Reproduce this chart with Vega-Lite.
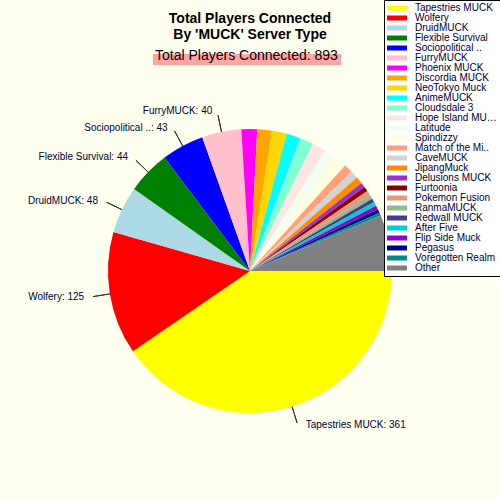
{
  "$schema": "https://vega.github.io/schema/vega-lite/v6.json",
  "description": "Total players connected by MUCK server type",
  "width": 500,
  "height": 458,
  "autosize": "none",
  "padding": {"top": 42, "left": 0, "right": 0, "bottom": 0},
  "background": "#FFFFF0",
  "config": {"view": {"stroke": null}},

  "title": {
    "text": ["Total Players Connected", "By 'MUCK' Server Type"],
    "font": "Liberation Sans",
    "fontSize": 14,
    "fontWeight": "bold",
    "lineHeight": 16,
    "color": "black",
    "anchor": "middle",
    "frame": "group",
    "offset": -42
  },

  "data": {
    "values": [
      {"idx": 1, "name": "Tapestries MUCK", "value": 361},
      {"idx": 2, "name": "Wolfery", "value": 125},
      {"idx": 3, "name": "DruidMUCK", "value": 48},
      {"idx": 4, "name": "Flexible Survival", "value": 44},
      {"idx": 5, "name": "Sociopolitical ..", "value": 43},
      {"idx": 6, "name": "FurryMUCK", "value": 40},
      {"idx": 7, "name": "Phoenix MUCK", "value": 16},
      {"idx": 8, "name": "Discordia MUCK", "value": 15},
      {"idx": 9, "name": "NeoTokyo Muck", "value": 15},
      {"idx": 10, "name": "AnimeMUCK", "value": 14},
      {"idx": 11, "name": "Cloudsdale 3", "value": 14},
      {"idx": 12, "name": "Hope Island MUCK", "value": 14},
      {"idx": 13, "name": "Latitude", "value": 13},
      {"idx": 14, "name": "Spindizzy", "value": 12},
      {"idx": 15, "name": "Match of the Mi..", "value": 9},
      {"idx": 16, "name": "CaveMUCK", "value": 8},
      {"idx": 17, "name": "JipangMuck", "value": 7},
      {"idx": 18, "name": "Delusions MUCK", "value": 5},
      {"idx": 19, "name": "Furtoonia", "value": 5},
      {"idx": 20, "name": "Pokemon Fusion", "value": 5},
      {"idx": 21, "name": "RanmaMUCK", "value": 4},
      {"idx": 22, "name": "Redwall MUCK", "value": 4},
      {"idx": 23, "name": "After Five", "value": 4},
      {"idx": 24, "name": "Flip Side Muck", "value": 4},
      {"idx": 25, "name": "Pegasus", "value": 4},
      {"idx": 26, "name": "Voregotten Realm", "value": 3},
      {"idx": 27, "name": "Other", "value": 57}
    ]
  },

  "transform": [
    {"stack": "value", "groupby": [], "sort": [{"field": "idx", "order": "ascending"}], "as": ["v0", "v1"]},
    {"calculate": "(datum.v0 + datum.v1) / 2", "as": "mid"},
    {"calculate": "datum.name + ': ' + datum.value", "as": "lbl"}
  ],

  "layer": [
    {
      "mark": {"type": "arc", "radius": 142},
      "encoding": {
        "theta": {"field": "v0", "type": "quantitative", "scale": {"domain": [0, 893], "range": [1.5708, 7.854], "nice": false, "zero": true}},
        "theta2": {"field": "v1"},
        "color": {
          "field": "name",
          "type": "nominal",
          "scale": {
            "domain": ["Tapestries MUCK", "Wolfery", "DruidMUCK", "Flexible Survival", "Sociopolitical ..", "FurryMUCK", "Phoenix MUCK", "Discordia MUCK", "NeoTokyo Muck", "AnimeMUCK", "Cloudsdale 3", "Hope Island MUCK", "Latitude", "Spindizzy", "Match of the Mi..", "CaveMUCK", "JipangMuck", "Delusions MUCK", "Furtoonia", "Pokemon Fusion", "RanmaMUCK", "Redwall MUCK", "After Five", "Flip Side Muck", "Pegasus", "Voregotten Realm", "Other"],
            "range": ["#FFFF00", "#FF0000", "#ADD8E6", "#008000", "#0000FF", "#FFC0CB", "#FF00FF", "#FFA500", "#FFD700", "#00FFFF", "#7FFFD4", "#FFE4E1", "#F0FFF0", "#FFFFE0", "#FFA07A", "#D3D3D3", "#FF8C00", "#9932CC", "#8B0000", "#E9967A", "#8FBC8F", "#483D8B", "#00CED1", "#9400D3", "#000080", "#008B8B", "#808080"]
          },
          "legend": {
            "title": null,
            "orient": "none",
            "legendX": 384,
            "legendY": -42,
            "fillColor": "white",
            "strokeColor": "black",
            "padding": 3,
            "rowPadding": 0,
            "symbolType": "M-1,-0.5H3V0.5H-1Z",
            "symbolSize": 100,
            "symbolStrokeWidth": 0,
            "labelFont": "Liberation Sans",
            "labelFontSize": 10,
            "labelColor": "#000033",
            "labelOffset": 18,
            "labelLimit": 82
          }
        }
      }
    },
    {
      "transform": [{"filter": "datum.idx <= 6"}],
      "mark": {"type": "arc", "radius": 142, "radius2": 159, "stroke": "#333333", "strokeWidth": 1, "fill": null},
      "encoding": {
        "theta": {"field": "mid", "type": "quantitative"},
        "theta2": {"field": "mid"},
        "opacity": {
          "datum": "total",
          "type": "nominal",
          "scale": {"range": [1]},
          "legend": {
            "title": "Total Players Connected: 893",
            "orient": "none",
            "legendX": 153,
            "legendY": 12,
            "direction": "horizontal",
            "titleOrient": "left",
            "titleFont": "Liberation Sans",
            "titleFontSize": 14,
            "titleFontWeight": "normal",
            "titleColor": "black",
            "titleLimit": 400,
            "titlePadding": 0,
            "titleBaseline": "middle",
            "fillColor": "#FFA3A3",
            "strokeColor": null,
            "padding": 2,
            "symbolOpacity": 0,
            "symbolStrokeWidth": 0,
            "symbolSize": 0,
            "labelExpr": "''",
            "labelOffset": 0,
            "labelFontSize": 1
          }
        }
      }
    },
    {
      "transform": [{"filter": "datum.idx <= 6 && datum.idx > 1"}],
      "mark": {"type": "text", "radius": 163, "dx": -5, "align": "right", "baseline": "middle", "font": "Liberation Sans", "fontSize": 10, "color": "#000033"},
      "encoding": {
        "theta": {"field": "mid", "type": "quantitative"},
        "text": {"field": "lbl"}
      }
    },
    {
      "transform": [{"filter": "datum.idx == 1"}],
      "mark": {"type": "text", "radius": 161, "dx": 8, "align": "left", "baseline": "middle", "font": "Liberation Sans", "fontSize": 10, "color": "#000033"},
      "encoding": {
        "theta": {"field": "mid", "type": "quantitative"},
        "text": {"field": "lbl"}
      }
    }
  ]
}
